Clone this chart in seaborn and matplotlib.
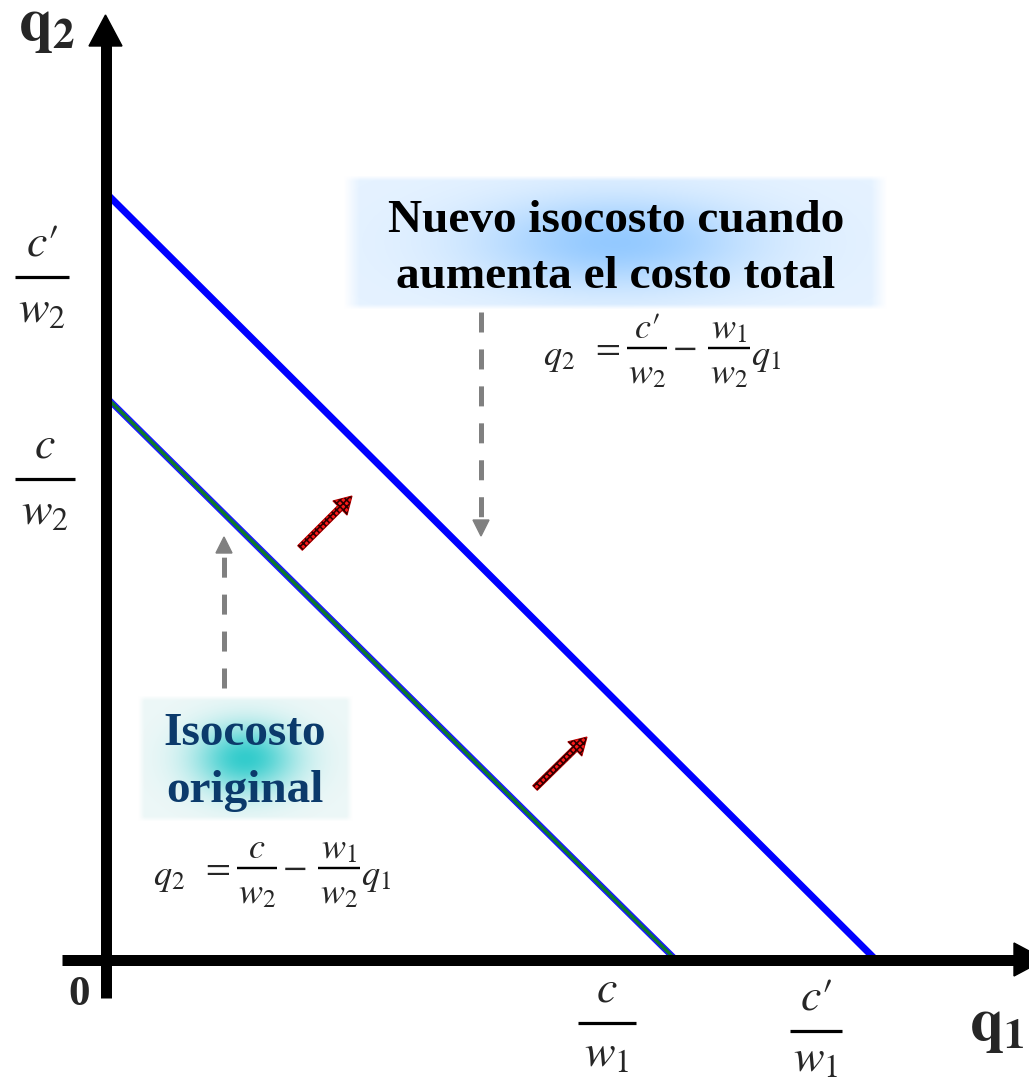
import numpy as np
import pandas as pd
import seaborn as sns
import matplotlib
matplotlib.use("Agg")
import matplotlib.pyplot as plt
from matplotlib.patches import Polygon, FancyArrow

# ---------------- data (intercepts of the isocost lines) ----------------
lines_name = ["Isocosto original", "Nuevo isocosto"]
q2_intercept = [5.63, 7.67]   # c/w2 , c'/w2
q1_intercept = [5.70, 7.70]   # c/w1 , c'/w1
y_tick_num = [r"$c$", r"$c\prime$"]
y_tick_den = [r"$w_2$", r"$w_2$"]
x_tick_num = [r"$c$", r"$c\prime$"]
x_tick_den = [r"$w_1$", r"$w_1$"]
eq_num_new = r"$c\prime$"
eq_num_orig = r"$c$"
box_new = ["Nuevo isocosto cuando", "aumenta el costo total"]
box_orig = ["Isocosto", "original"]

df = pd.DataFrame({
    "q1": [0, q1_intercept[0], 0, q1_intercept[1]],
    "q2": [q2_intercept[0], 0, q2_intercept[1], 0],
    "line": [lines_name[0], lines_name[0], lines_name[1], lines_name[1]],
})

sns.set_theme(style="white")
plt.rcParams["mathtext.fontset"] = "stix"
plt.rcParams["font.family"] = ["Liberation Serif", "DejaVu Serif"]
plt.rcParams["lines.scale_dashes"] = False
plt.rcParams["hatch.linewidth"] = 1.2

W, H = 1029, 1081
fig = plt.figure(figsize=(W / 100, H / 100), dpi=100)
ax = fig.add_axes([0, 0, 1, 1])

OX, OY, S = 105.5, 959.5, 100.0
def P(px, py):
    return ((px - OX) / S, (OY - py) / S)
PT = 0.72  # points per pixel

ax.set_xlim(P(0, 0)[0], P(W, 0)[0])
ax.set_ylim(P(0, H)[1], P(0, 0)[1])
ax.axis("off")

# ---------------- glow boxes ----------------
def glow(x0, x1, y0, y1, center, edge, sx, sy, z=0):
    nx, ny = 300, 120
    u = np.linspace(-1, 1, nx)[None, :]
    v = np.linspace(-1, 1, ny)[:, None]
    g = np.exp(-(u ** 2 / sx + v ** 2 / sy))
    img = np.zeros((ny, nx, 4))
    for k in range(3):
        img[..., k] = edge[k] * (1 - g) + center[k] * g
    fade = np.clip((1 - np.abs(u)) / 0.06, 0, 1) * np.clip((1 - np.abs(v)) / 0.08, 0, 1)
    img[..., 3] = fade
    (a, b), (c, d) = P(x0, y1), P(x1, y0)
    ax.imshow(img, extent=[a, c, b, d], origin="upper", aspect="auto",
              zorder=z, interpolation="bilinear")

glow(343, 888, 175, 310, (0.58, 0.79, 1.0), (0.90, 0.95, 1.0), 0.25, 0.45)
glow(138, 353, 695, 822, (0.20, 0.80, 0.80), (0.93, 0.97, 0.97), 0.22, 0.28)

# ---------------- isocost lines (seaborn) ----------------
sns.lineplot(data=df[df.line == lines_name[1]], x="q1", y="q2", color="#0000ff",
             lw=7 * PT, ax=ax, legend=False, zorder=3, estimator=None)
sns.lineplot(data=df[df.line == lines_name[0]], x="q1", y="q2", color="#1a1aff",
             lw=6.5 * PT, ax=ax, legend=False, zorder=3, estimator=None)
sns.lineplot(data=df[df.line == lines_name[0]], x="q1", y="q2", color="#0d7a2a",
             lw=3.4 * PT, ax=ax, legend=False, zorder=3.1, estimator=None)

# ---------------- axes with arrows ----------------
ax.plot(*zip(P(OX, 998), P(OX, 44)), color="black", lw=11 * PT, zorder=5,
        solid_capstyle="butt")
ax.add_patch(Polygon([P(89, 46), P(122, 46), P(OX, 15)], closed=True,
                     color="black", zorder=5))
ax.plot(*zip(P(62, OY), P(1016, OY)), color="black", lw=11 * PT, zorder=5,
        solid_capstyle="butt")
ax.add_patch(Polygon([P(1014, 943), P(1014, 976), P(1045, OY)], closed=True,
                     color="black", zorder=5))

# ---------------- fractions ----------------
def frac(cx, bar, num, den, hw, fs=33, dn=21, dd=45, blw=3.2):
    ax.text(*P(cx, bar - dn), num, ha="center", va="baseline", fontsize=fs, zorder=6)
    ax.plot(*zip(P(cx - hw, bar), P(cx + hw, bar)), color="black", lw=blw * PT,
            solid_capstyle="butt", zorder=6)
    ax.text(*P(cx, bar + dd), den, ha="center", va="baseline", fontsize=fs, zorder=6)

frac(45, 479, y_tick_num[0], y_tick_den[0], 30)
frac(42, 277, y_tick_num[1], y_tick_den[1], 27)
frac(607, 1023, x_tick_num[0], x_tick_den[0], 29, dd=43)
frac(816, 1031, x_tick_num[1], x_tick_den[1], 26, dd=40)

# ---------------- equations (built piecewise) ----------------
def equation(x0, bar, num):
    fs = 26
    ax.text(*P(x0, bar + 17), r"$q_2$", ha="left", va="baseline", fontsize=fs, zorder=6)
    ax.text(*P(x0 + 62, bar + 9), r"$=$", ha="center", va="baseline", fontsize=fs, zorder=6)
    frac(x0 + 104, bar, num, r"$w_2$", 20, fs=fs, dn=10, dd=35, blw=2.4)
    ax.text(*P(x0 + 141, bar + 9), r"$-$", ha="center", va="baseline", fontsize=fs, zorder=6)
    frac(x0 + 186, bar, r"$w_1$", r"$w_2$", 21, fs=fs, dn=10, dd=35, blw=2.4)
    ax.text(*P(x0 + 208, bar + 17), r"$q_1$", ha="left", va="baseline", fontsize=fs, zorder=6)

equation(543, 348, eq_num_new)
equation(153, 868, eq_num_orig)

# ---------------- axis names ----------------
ax.text(*P(18, 40), r"$\mathbf{q}_{\mathbf{2}}$", fontsize=44, ha="left", va="baseline")
ax.text(*P(969, 1040), r"$\mathbf{q}_{\mathbf{1}}$", fontsize=44, ha="left", va="baseline")
ax.text(*P(79, 1005), "0", fontsize=31, fontweight="bold", ha="center", va="baseline")

# ---------------- boxed texts ----------------
ax.text(*P(616, 232), box_new[0], fontsize=34, fontweight="bold", ha="center",
        va="baseline", color="black", zorder=6)
ax.text(*P(616, 288), box_new[1], fontsize=34, fontweight="bold", ha="center",
        va="baseline", color="black", zorder=6)
ax.text(*P(245, 745), box_orig[0], fontsize=34, fontweight="bold", ha="center",
        va="baseline", color="#0b3a6b", zorder=6)
ax.text(*P(245, 802), box_orig[1], fontsize=34, fontweight="bold", ha="center",
        va="baseline", color="#0b3a6b", zorder=6)

# ---------------- dashed grey arrows ----------------
gray = "#808080"
ax.plot(*zip(P(481, 312), P(481, 520)), color=gray, lw=5 * PT, dashes=(14.4, 12.2),
        zorder=4, solid_capstyle="butt")
ax.add_patch(Polygon([P(473, 520), P(489, 520), P(481, 536)], closed=True,
                     color=gray, zorder=4))
ax.plot(*zip(P(224, 688), P(224, 553)), color=gray, lw=5 * PT, dashes=(14.4, 12.2),
        zorder=4, solid_capstyle="butt")
ax.add_patch(Polygon([P(216, 553), P(232, 553), P(224, 537)], closed=True,
                     color=gray, zorder=4))

# ---------------- red shift arrows ----------------
for (tx, ty), (hx, hy) in [((300, 548), (352, 496)), ((535, 788), (587, 737))]:
    x0, y0 = P(tx, ty)
    x1, y1 = P(hx, hy)
    for fc, ec, hatch, lw in [("#ff1a1a", "#c00000", None, 0.8),
                              ("none", "#300000", "xxxxx", 0)]:
        ax.add_patch(FancyArrow(x0, y0, x1 - x0, y1 - y0, width=0.065,
                                head_width=0.20, head_length=0.17,
                                length_includes_head=True, facecolor=fc,
                                edgecolor=ec, hatch=hatch, lw=lw, zorder=6))

fig.savefig("out.png", dpi=100)
